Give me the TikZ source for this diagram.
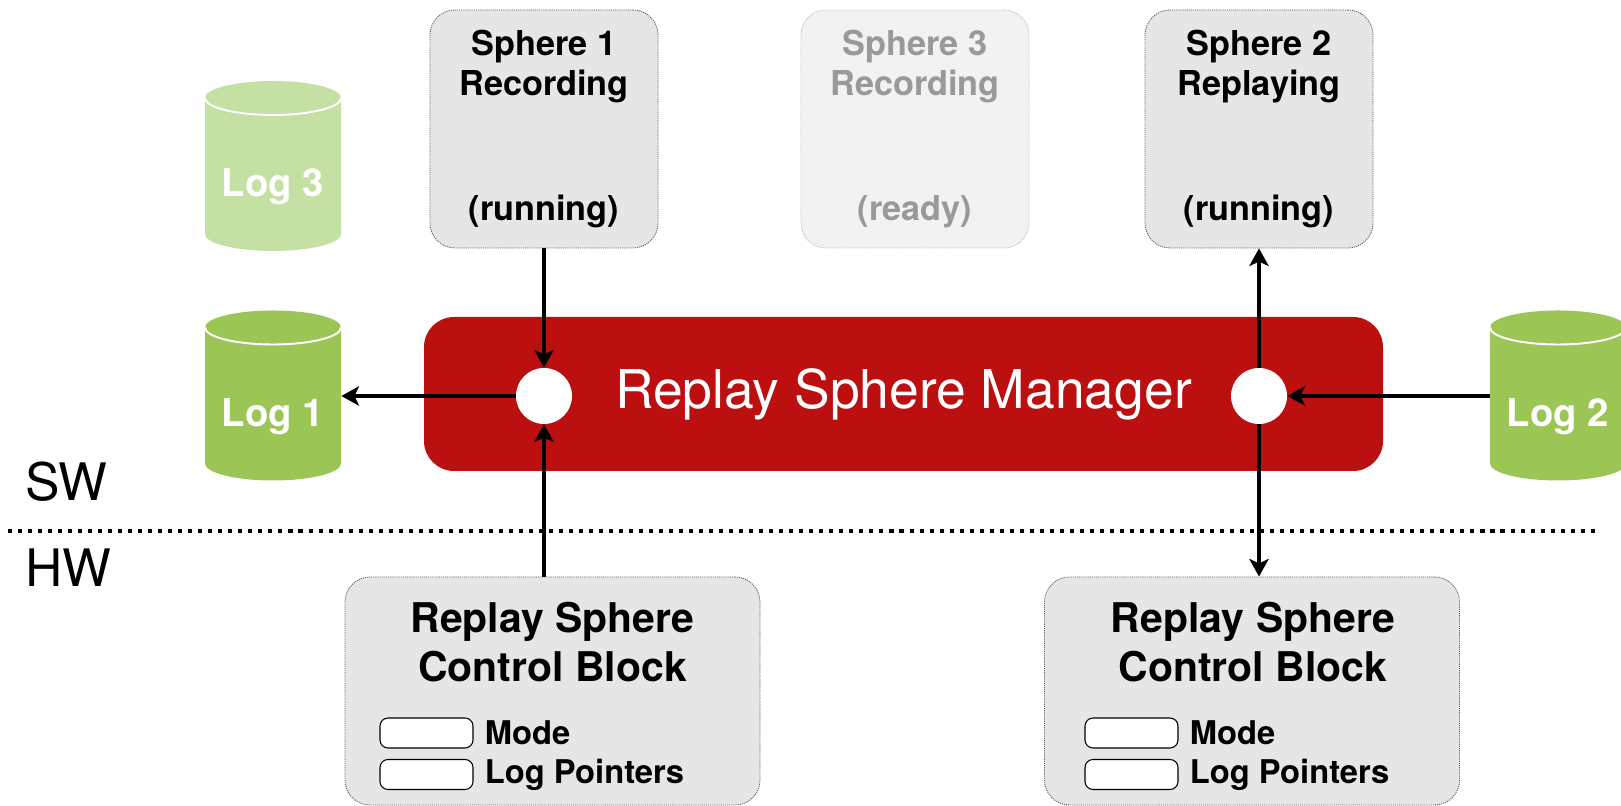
\documentclass[tikz,border=0pt]{standalone}
\usepackage{fontspec}
\setmainfont{TeX Gyre Heros}
\usetikzlibrary{arrows.meta, positioning}
\definecolor{mgrred}{RGB}{188,16,16}
\definecolor{loggreen}{RGB}{155,198,85}
\definecolor{logpale}{RGB}{197,224,163}
\definecolor{boxgray}{RGB}{230,230,230}
\definecolor{idlegray}{RGB}{242,242,242}

\begin{document}
\begin{tikzpicture}[
    sphere/.style={draw=black!65, line width=0.5pt, dash pattern=on 0.6pt off 0.6pt,
      fill=boxgray, rounded corners=0.5cm, minimum width=4.56cm, minimum height=4.76cm,
      align=center, inner sep=0pt, font=\bfseries\fontsize{19.5}{22.8}\selectfont},
    idle/.style={fill=idlegray, draw=black!25, text=black!40},
    manager/.style={fill=mgrred, rounded corners=0.6cm, minimum width=19.18cm,
      minimum height=3.08cm, text=white, font=\fontsize{30.4}{36}\selectfont},
    port/.style={circle, fill=white, minimum size=1.12cm, inner sep=0pt},
    ctrlblock/.style={draw=black!65, line width=0.5pt, dash pattern=on 0.6pt off 0.6pt,
      fill=boxgray, rounded corners=0.5cm, minimum width=8.3cm, minimum height=4.56cm},
    blocktitle/.style={align=center, inner sep=0pt, font=\bfseries\fontsize{23.3}{27.9}\selectfont},
    field/.style={draw=black, line width=0.6pt, fill=white, rounded corners=0.16cm,
      minimum width=1.86cm, minimum height=0.6cm, inner sep=0pt},
    fieldtext/.style={inner sep=0pt, font=\bfseries\fontsize{18.6}{22}\selectfont},
    logtext/.style={text=white, minimum width=2.72cm, inner sep=0pt,
      font=\bfseries\fontsize{21.8}{26}\selectfont},
    layer/.style={inner sep=0pt, font=\fontsize{29.4}{35}\selectfont},
    flow/.style={-{Stealth[length=10pt, width=11pt, inset=2.5pt]}, line width=2.1pt}
  ]
  \useasboundingbox (0,0) rectangle (32.42,16.12);

  % SW / HW border
  \draw[line width=2.3pt, dash pattern=on 2.3pt off 3.4pt] (0.16,5.50) -- (31.94,5.50);
  \node[layer, anchor=west] (sw) at (0.5,6.48) {SW};
  \node[layer, anchor=west] (hw) at (0.5,4.76) {HW};

  % logs
  \foreach \n/\x/\y/\c/\t in {log3/5.46/12.80/logpale/Log 3,
                              log1/5.46/8.21/loggreen/Log 1,
                              log2/31.16/8.21/loggreen/Log 2}{
    \fill[\c] (\x-1.36,\y+1.36) -- (\x-1.36,\y-1.36)
      arc[start angle=180, end angle=360, x radius=1.36, y radius=0.34]
      -- (\x+1.36,\y+1.36)
      arc[start angle=0, end angle=180, x radius=1.36, y radius=0.34] -- cycle;
    \draw[white, line width=1.1pt] (\x-1.36,\y+1.36)
      arc[start angle=180, end angle=360, x radius=1.36, y radius=0.34];
    \node[logtext] (\n) at (\x,\y-0.42) {\t};
  }

  % spheres
  \node[sphere] (s1) at (10.88,13.54) {Sphere 1\\Recording\\[48.3pt](running)};
  \node[sphere, idle] (s3) at (18.30,13.54) {Sphere 3\\Recording\\[48.3pt](ready)};
  \node[sphere] (s2) at (25.18,13.54) {Sphere 2\\Replaying\\[48.3pt](running)};

  % manager
  \node[manager] (rsm) at (18.07,8.24) {Replay Sphere Manager};
  \node[port] (p1) at (10.88,8.20) {};
  \node[port] (p2) at (25.18,8.20) {};

  % control blocks
  \node[ctrlblock] (cb1) at (11.05,2.30) {};
  \node[blocktitle] (t1) at (11.05,3.27) {Replay Sphere\\Control Block};
  \node[field] (mode1) at (8.53,1.46) {};
  \node[fieldtext, right=0.22cm of mode1] (modet1) {Mode};
  \node[field] (ptr1) at (8.53,0.63) {};
  \node[fieldtext, right=0.22cm of ptr1] (ptrt1) {Log Pointers};

  \node[ctrlblock] (cb2) at (25.04,2.30) {};
  \node[blocktitle] (t2) at (25.06,3.27) {Replay Sphere\\Control Block};
  \node[field] (mode2) at (22.63,1.46) {};
  \node[fieldtext, right=0.22cm of mode2] (modet2) {Mode};
  \node[field] (ptr2) at (22.63,0.63) {};
  \node[fieldtext, right=0.22cm of ptr2] (ptrt2) {Log Pointers};

  % arrows
  \draw[flow] (s1.south) -- (p1.north);
  \draw[flow] (cb1.north -| p1) -- (p1.south);
  \draw[flow] (p1.west) -- (p1 -| log1.east);
  \draw[flow] (p2.north) -- (s2.south);
  \draw[flow] (p2.south) -- (p2 |- cb2.north);
  \draw[flow] (log2.west |- p2) -- (p2.east);
\end{tikzpicture}
\end{document}
